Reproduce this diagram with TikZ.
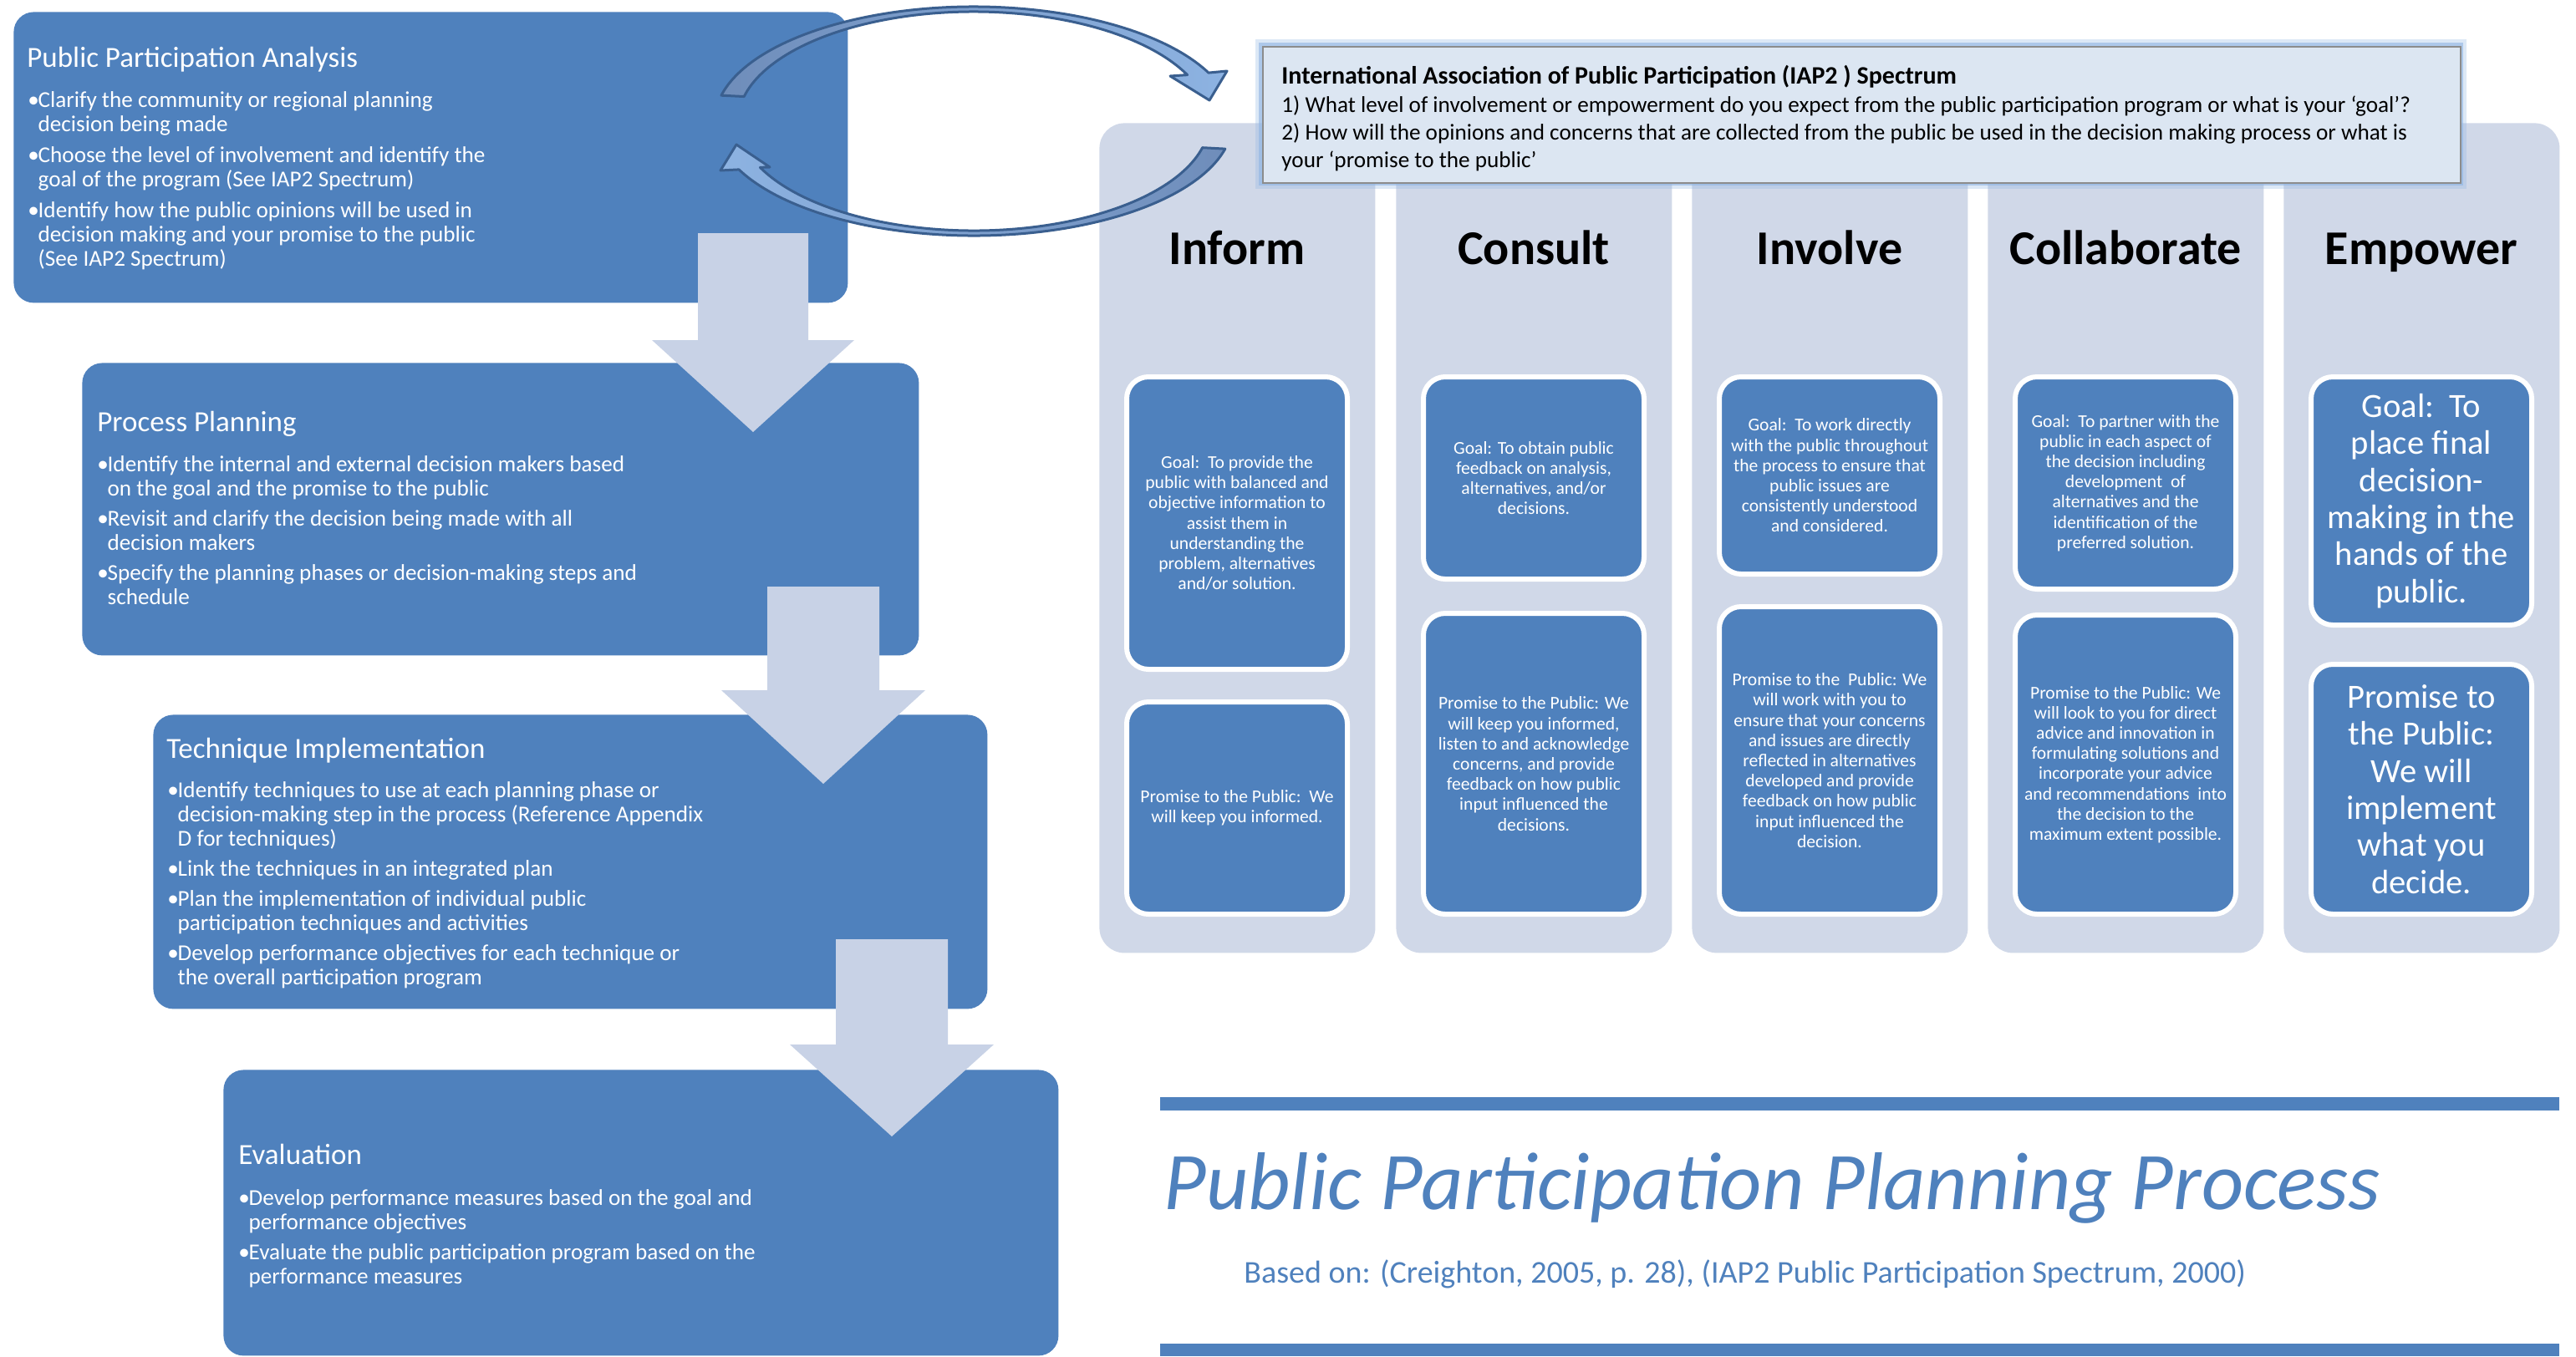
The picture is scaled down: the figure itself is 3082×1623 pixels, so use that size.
\documentclass[tikz,border=0pt]{standalone}
\usepackage{fontspec}
\setmainfont{Carlito}
\usetikzlibrary{arrows.meta,calc}
\definecolor{boxblue}{HTML}{4F81BD}
\definecolor{colbg}{HTML}{D0D8E8}
\definecolor{arrfill}{HTML}{C8D2E6}
\definecolor{iapfill}{HTML}{DCE6F2}
\definecolor{iapline}{HTML}{8C8C8C}
\definecolor{glow}{HTML}{8EB4E3}
\definecolor{loopdark}{HTML}{3A5F8F}
\definecolor{looptail}{HTML}{6F8DBA}
\definecolor{loophead}{HTML}{8DB3E2}
\newcommand\bu{\makebox[0.45em][l]{\textbullet}}
\newcommand\ct{\hspace*{0.45em}}
\begin{document}
\begin{tikzpicture}[x=0.5pt,y=-0.5pt,
  stepbox/.style={fill=boxblue, rounded corners=12pt, anchor=north west, inner sep=0pt},
  colbox/.style={fill=colbg, rounded corners=15pt, anchor=north west, inner sep=0pt, minimum width=165pt, minimum height=496.5pt},
  ibox/.style={fill=boxblue, draw=white, line width=3pt, rounded corners=13pt, anchor=north, inner sep=0pt, minimum width=132pt, text=white, align=center, font=\fontsize{10.8}{12.1}\selectfont},
  bigbox/.style={ibox, font=\fontsize{20.3}{22.2}\selectfont},
  ttl/.style={text=white, anchor=base west, inner sep=0pt, font=\fontsize{17.5}{20}\selectfont},
  btext/.style={text=white, anchor=north west, inner sep=0pt, align=left, font=\fontsize{13.6}{14.5}\selectfont},
  hdr/.style={anchor=base, inner sep=0pt, font=\fontsize{29}{30}\selectfont\bfseries},
  downarrow/.style={fill=arrfill},
  looparrow/.style={draw=loopdark, line width=1.5pt, line join=round}
]
\useasboundingbox (0,0) rectangle (3082,1623);
\fill[white] (0,0) rectangle (3082,1623);

% ---------- left process boxes ----------
\node[stepbox, minimum width=499pt, minimum height=174pt] (b1) at (16,14) {};
\node[stepbox, minimum width=500.5pt, minimum height=175pt] (b2) at (98,434) {};
\node[stepbox, minimum width=499pt, minimum height=176pt] (b3) at (183,855) {};
\node[stepbox, minimum width=499.5pt, minimum height=171pt] (b4) at (267,1280) {};

\node[ttl] (h1) at (32,80) {Public Participation Analysis};
\node[btext] (t1) at (33,109) {\bu Clarify the community or regional planning\\ \ct decision being made\\[4pt]
\bu Choose the level of involvement and identify the\\ \ct goal of the program (See IAP2 Spectrum)\\[4pt]
\bu Identify how the public opinions will be used in\\ \ct decision making and your promise to the public\\ \ct (See IAP2 Spectrum)};

\node[ttl] (h2) at (116,516) {Process Planning};
\node[btext] (t2) at (116,545) {\bu Identify the internal and external decision makers based\\ \ct on the goal and the promise to the public\\[3.5pt]
\bu Revisit and clarify the decision being made with all\\ \ct decision makers\\[3.5pt]
\bu Specify the planning phases or decision-making steps and\\ \ct schedule};

\node[ttl] (h3) at (199,907) {Technique Implementation};
\node[btext] (t3) at (200,935) {\bu Identify techniques to use at each planning phase or\\ \ct decision-making step in the process (Reference Appendix\\ \ct D for techniques)\\[3.5pt]
\bu Link the techniques in an integrated plan\\[3.5pt]
\bu Plan the implementation of individual public\\ \ct participation techniques and activities\\[3.5pt]
\bu Develop performance objectives for each technique or\\ \ct the overall participation program};

\node[ttl] (h4) at (285,1393) {Evaluation};
\node[btext] (t4) at (285,1423) {\bu Develop performance measures based on the goal and\\ \ct performance objectives\\[3.5pt]
\bu Evaluate the public participation program based on the\\ \ct performance measures};

% ---------- down arrows ----------
\fill[downarrow] (835,279) -- (967,279) -- (967,407) -- (1022,407) -- (901,517) -- (780,407) -- (835,407) -- cycle;
\fill[downarrow] (918,702) -- (1052,702) -- (1052,826) -- (1107,826) -- (985,938) -- (863,826) -- (918,826) -- cycle;
\fill[downarrow] (1000,1124) -- (1134,1124) -- (1134,1250) -- (1189,1250) -- (1067,1360) -- (945,1250) -- (1000,1250) -- cycle;

% ---------- spectrum columns ----------
\node[colbox] (c1) at (1315,147) {};
\node[colbox] (c2) at (1670,147) {};
\node[colbox] (c3) at (2024,147) {};
\node[colbox] (c4) at (2378,147) {};
\node[colbox] (c5) at (2732,147) {};

% ---------- loop arrows (tapered curved arrows) ----------
\coordinate (lc) at (1165,145);
\path[looparrow, left color=looptail, right color=loophead]
  (lc) ++(193:310 and 137) arc[start angle=193, end angle=335, x radius=310, y radius=137]
  -- (1468,85) -- (1447,120) -- (1400,91)
  -- ($(lc)+(335:282 and 131)$) arc[start angle=335, end angle=193, x radius=282, y radius=131] -- cycle;
\path[looparrow, left color=loophead, right color=looptail]
  (lc) ++(14:310 and 137) arc[start angle=14, end angle=155, x radius=310, y radius=137]
  -- (862,204) -- (881,173) -- (921,200)
  -- ($(lc)+(155:282 and 131)$) arc[start angle=155, end angle=14, x radius=282, y radius=131] -- cycle;

% ---------- IAP2 box ----------
\draw[glow, line width=8pt, opacity=0.3] (1510,55) rectangle (2943,218);
\draw[glow, line width=4pt, opacity=0.6] (1510,55) rectangle (2943,218);
\node[fill=iapfill, draw=iapline, line width=0.8pt, anchor=north west, inner sep=0pt, minimum width=716.5pt, minimum height=81.5pt] (iap) at (1510,55) {};
\node[anchor=north west, inner sep=0pt, align=left, font=\fontsize{13.6}{16.5}\selectfont] (iapt) at (1533,78) {{\fontsize{15}{16.5}\selectfont\bfseries International Association of Public Participation (IAP2 ) Spectrum}\\[0.5pt]
1) What level of involvement or empowerment do you expect from the public participation program or what is your ‘goal’?\\
2) How will the opinions and concerns that are collected from the public be used in the decision making process or what is\\
your ‘promise to the public’};

% ---------- column headers ----------
\node[hdr] (hinf) at (1480,316) {Inform};
\node[hdr] (hcon) at (1835,316) {Consult};
\node[hdr] (hinv) at (2189,316) {Involve};
\node[hdr] (hcol) at (2543,316) {Collaborate};
\node[hdr] (hemp) at (2897,316) {Empower};

% ---------- inner boxes ----------
\node[ibox, minimum height=175pt] (g1) at (1480,448) {Goal:\ \ To provide the\\ public with balanced and\\ objective information to\\ assist them in\\ understanding the\\ problem, alternatives\\ and/or solution.};
\node[ibox, minimum height=127pt] (p1) at (1480,837) {Promise to the Public:\ \ We\\ will keep you informed.};
\node[ibox, minimum height=121pt] (g2) at (1835,448) {Goal: To obtain public\\ feedback on analysis,\\ alternatives, and/or\\ decisions.};
\node[ibox, minimum height=180pt] (p2) at (1835,731) {Promise to the Public: We\\ will keep you informed,\\ listen to and acknowledge\\ concerns, and provide\\ feedback on how public\\ input influenced the\\ decisions.};
\node[ibox, minimum height=118pt] (g3) at (2189,448) {Goal:\ \ To work directly\\ with the public throughout\\ the process to ensure that\\ public issues are\\ consistently understood\\ and considered.};
\node[ibox, minimum height=184pt] (p3) at (2189,723) {Promise to the\ \ Public: We\\ will work with you to\\ ensure that your concerns\\ and issues are directly\\ reflected in alternatives\\ developed and provide\\ feedback on how public\\ input influenced the\\ decision.};
\node[ibox, minimum height=127pt] (g4) at (2543,448) {Goal:\ \ To partner with the\\ public in each aspect of\\ the decision including\\ development\ \ of\\ alternatives and the\\ identification of the\\ preferred solution.};
\node[ibox, minimum height=179pt] (p4) at (2543,733) {Promise to the Public: We\\ will look to you for direct\\ advice and innovation in\\ formulating solutions and\\ incorporate your advice\\ and recommendations\ \ into\\ the decision to the\\ maximum extent possible.};
\node[bigbox, minimum height=148.5pt] (g5) at (2897,448) {Goal:\ \ To\\ place final\\ decision-\\ making in the\\ hands of the\\ public.};
\node[bigbox, minimum height=149.5pt] (p5) at (2897,792) {Promise to\\ the Public:\\ We will\\ implement\\ what you\\ decide.};

% ---------- title area ----------
\fill[boxblue] (1388,1313) rectangle (3062,1329);
\fill[boxblue] (1388,1608) rectangle (3062,1623);
\node[anchor=base west, inner sep=0pt, text=boxblue, font=\fontsize{49}{52}\selectfont\itshape] (title) at (1392,1447) {Public Participation Planning Process};
\node[anchor=base west, inner sep=0pt, text=boxblue, font=\fontsize{19}{22}\selectfont] (sub) at (1488,1535) {Based on: (Creighton, 2005, p. 28), (IAP2 Public Participation Spectrum, 2000)};
\end{tikzpicture}
\end{document}
